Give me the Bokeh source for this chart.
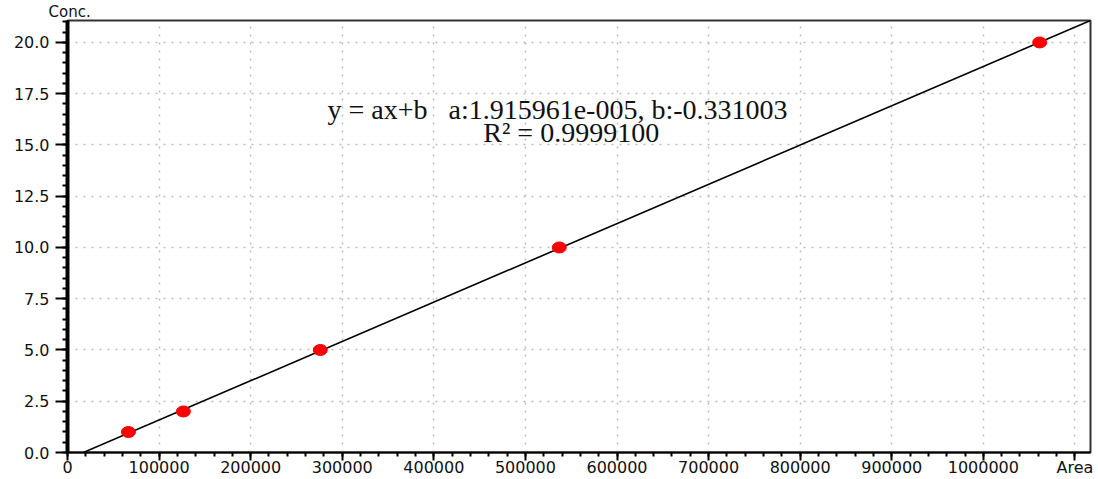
from bokeh.plotting import figure
from bokeh.models import (FixedTicker, Label, Range1d, CustomJSTickFormatter,
                          NumeralTickFormatter)
from bokeh.embed import file_html
from bokeh.resources import INLINE

# Calibration standards: peak area vs. concentration
areas = [66500, 126500, 276000, 537000, 1061500]
concs = [1.0, 2.0, 5.0, 10.0, 20.0]

# Fit reported by the software
slope = 1.915961e-005
intercept = -0.331003
r_squared = 0.9999100

x_ticks = [0, 100000, 200000, 300000, 400000, 500000, 600000, 700000,
           800000, 900000, 1000000, 1100000]
x_tick_labels = {1100000: "Area"}
y_ticks = [0.0, 2.5, 5.0, 7.5, 10.0, 12.5, 15.0, 17.5, 20.0]

y_end = 21.07
x_end = (y_end - intercept) / slope

p = figure(width=1098, height=479, output_backend="svg", toolbar_location=None,
           x_range=Range1d(0, x_end), y_range=Range1d(0, y_end),
           min_border_left=67, min_border_right=8, min_border_top=0,
           min_border_bottom=26, title="Conc.")
p.background_fill_color = "white"
p.border_fill_color = "white"
p.outline_line_color = "#333333"
p.outline_line_width = 2

# axis title drawn above the y axis
p.title.align = "left"
p.title.offset = -19
p.title.text_font = "DejaVu Sans"
p.title.text_font_size = "15px"
p.title.text_font_style = "normal"
p.title.text_color = "#111111"
p.title.standoff = 0

# grid
for g in (p.xgrid, p.ygrid):
    g.grid_line_color = "#bdbdbd"
    g.grid_line_dash = "2 6"
    g.grid_line_width = 1.5

# x axis
xa = p.xaxis[0]
xa.ticker = FixedTicker(ticks=x_ticks,
                        minor_ticks=[i * 20000 for i in range(0, 56)])
xa.formatter = NumeralTickFormatter(format="0")
xa.major_label_overrides = x_tick_labels
xa.axis_line_width = 2
xa.axis_line_color = "black"
xa.major_tick_out = 8
xa.major_tick_in = 0
xa.minor_tick_out = 4
xa.minor_tick_in = 0
xa.major_tick_line_width = 2
xa.minor_tick_line_width = 2
xa.major_label_standoff = -3
xa.major_label_text_font = "DejaVu Sans"
xa.major_label_text_font_size = "16px"
xa.major_label_text_color = "#111111"

# y axis
ya = p.yaxis[0]
ya.ticker = FixedTicker(ticks=y_ticks, minor_ticks=[i * 0.5 for i in range(0, 43)])
ya.formatter = CustomJSTickFormatter(code="return tick.toFixed(1);")
ya.axis_line_width = 4
ya.axis_line_color = "black"
ya.major_tick_out = 12
ya.major_tick_in = 0
ya.minor_tick_out = 5
ya.minor_tick_in = 0
ya.major_tick_line_width = 2
ya.minor_tick_line_width = 2
ya.major_label_standoff = 6
ya.major_label_text_font = "DejaVu Sans"
ya.major_label_text_font_size = "16px"
ya.major_label_text_color = "#111111"

# regression line
p.line([0, x_end], [intercept, slope * x_end + intercept],
       line_color="black", line_width=1.6)

# standards
p.ellipse(x=areas, y=concs, width=14, height=11,
          width_units="screen", height_units="screen",
          fill_color="#ff0000", line_color="#ff0000")

# fit equation
gap = "\u00a0" * 3
eq_text = ("y = ax+b" + gap + "a:%.6e, b:%.6f" % (slope, intercept)).replace("e-05", "e-005")
p.add_layout(Label(x=535000, y=16.72, text=eq_text,
                   text_font="Liberation Serif", text_font_size="28px",
                   text_align="center", text_baseline="alphabetic",
                   text_color="#111111"))
p.add_layout(Label(x=550000, y=15.62,
                   text="R\u00b2 = %.7f" % r_squared,
                   text_font="Liberation Serif", text_font_size="28px",
                   text_align="center", text_baseline="alphabetic",
                   text_color="#111111"))

open("out.html", "w").write(file_html(p, INLINE))
